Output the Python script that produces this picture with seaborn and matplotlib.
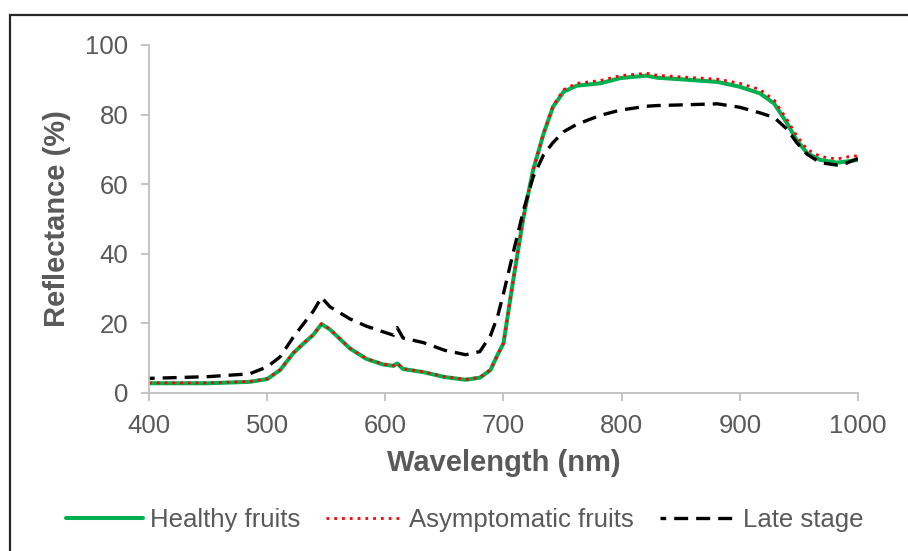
import numpy as np
import pandas as pd
import matplotlib
matplotlib.use("Agg")
import matplotlib.pyplot as plt
import seaborn as sns
from matplotlib.patches import Rectangle

# wavelength grid (nm) and reflectance (%)
wavelength = [400, 450, 485, 500, 511, 522, 531, 539, 546, 553, 570, 584, 598, 607, 610, 615,
              632, 650, 668, 680, 689, 695, 700, 708, 717, 725, 734, 742, 751, 762, 782, 799,
              821, 830, 852, 881, 900, 917, 929, 940, 948, 957, 968, 982, 990, 1000]
healthy = [2.8, 2.8, 3.2, 4.0, 6.6, 11.4, 14.3, 16.7, 19.8, 18.3, 12.8, 9.8, 8.2, 7.8, 8.5, 6.9,
           6.0, 4.6, 3.8, 4.4, 6.6, 11.0, 14.3, 32.0, 50.7, 64.0, 74.6, 82.3, 86.6, 88.3, 89.0, 90.5,
           91.2, 90.6, 90.1, 89.4, 88.0, 86.1, 83.2, 77.5, 72.7, 68.9, 67.0, 66.2, 66.5, 67.0]
asymptomatic = [2.9, 2.9, 3.3, 4.1, 6.7, 11.5, 14.4, 16.8, 19.9, 18.4, 12.9, 9.9, 8.3, 7.9, 8.6, 7.0,
                6.1, 4.7, 3.9, 4.5, 6.7, 11.0, 14.3, 32.0, 50.7, 64.0, 74.8, 82.6, 87.2, 89.0, 89.8, 91.2,
                91.9, 91.3, 90.8, 90.2, 89.0, 87.2, 84.2, 78.5, 74.0, 70.0, 68.0, 67.2, 67.8, 68.2]
late_stage = [4.2, 4.7, 5.5, 7.5, 10.4, 16.0, 20.0, 23.5, 27.5, 24.8, 21.3, 19.2, 17.6, 16.6, 18.8, 15.8,
              14.5, 12.3, 11.0, 11.9, 16.5, 22.0, 28.6, 40.0, 52.6, 62.0, 68.5, 72.0, 75.1, 77.2, 79.8, 81.3,
              82.4, 82.6, 82.8, 83.1, 82.1, 80.5, 79.2, 75.8, 72.0, 68.6, 66.2, 65.5, 66.0, 67.4]

df = pd.DataFrame({"wl": wavelength, "healthy": healthy,
                   "asym": asymptomatic, "late": late_stage})

sns.set_theme(style="white")
plt.rcParams['font.family'] = ['Liberation Sans', 'DejaVu Sans']

grey = "#595959"
axis_grey = "#bfbfbf"

fig = plt.figure(figsize=(9.08, 5.51), dpi=100)
ax = fig.add_axes([149 / 908, 1 - 393 / 551, (858 - 149) / 908, (393 - 45) / 551])

sns.lineplot(data=df, x="wl", y="healthy", ax=ax, color="#00b050", lw=2.9, label="Healthy fruits")
sns.lineplot(data=df, x="wl", y="asym", ax=ax, color="#ff0000", lw=2.0, linestyle=(0, (1, 1.8)),
             label="Asymptomatic fruits")
sns.lineplot(data=df, x="wl", y="late", ax=ax, color="black", lw=2.4, linestyle=(2.5, (4.2, 2.4)),
             label="Late stage")

ax.set_xlim(400, 1000)
ax.set_ylim(0, 100)
ax.set_xticks(range(400, 1001, 100))
ax.set_yticks(range(0, 101, 20))

# 轴线和刻度
sns.despine(ax=ax)
for s in ["left", "bottom"]:
    ax.spines[s].set_color(axis_grey)
    ax.spines[s].set_linewidth(1.3)
ax.tick_params(axis="both", direction="out", length=6, width=1.3, color=axis_grey,
               labelcolor=grey, labelsize=18.5, pad=9)
ax.tick_params(left=True, bottom=True)

ax.set_xlabel("Wavelength (nm)", fontsize=21, fontweight="bold", color=grey, labelpad=8)
ax.set_ylabel("Reflectance (%)", fontsize=21, fontweight="bold", color=grey, labelpad=10)

leg = ax.legend(loc="center", bbox_to_anchor=(465 / 908, 31 / 551), bbox_transform=fig.transFigure,
                ncol=3, frameon=False, fontsize=18.5, handlelength=3.0, handletextpad=0.25,
                columnspacing=1.0)
for t in leg.get_texts():
    t.set_color(grey)

# 外框
fig.patches.append(Rectangle((10 / 908, -0.05), 1.2, 1 - 15 / 551 + 0.05, transform=fig.transFigure,
                             fill=False, edgecolor="#262626", lw=1.6, zorder=10))

fig.savefig("out.png", dpi=100)
